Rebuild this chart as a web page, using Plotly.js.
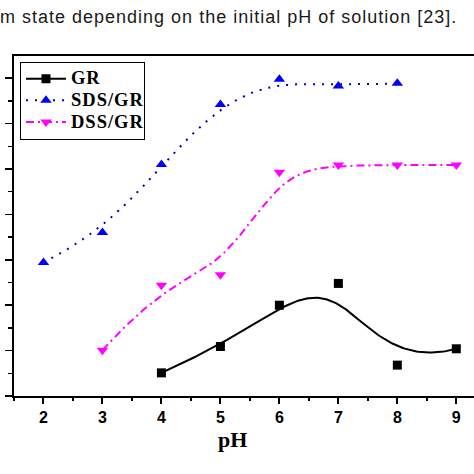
<!DOCTYPE html>
<html>
<head>
<meta charset="utf-8">
<script src="https://cdn.plot.ly/plotly-3.0.1.min.js"></script>
<style>
html,body{margin:0;padding:0;overflow:hidden;background:#fff;}
#chart{width:474px;height:474px;}
#chart .gtitle{letter-spacing:1.0px;}
#chart .legendtext{letter-spacing:1px;}
</style>
</head>
<body>
<div id="chart"></div>
<script>
// Data (y in units of the major y ticks, labels cropped)
const grPH = [4, 5, 6, 7, 8, 9];
const grVal = [0.51, 1.09, 2.00, 2.48, 0.68, 1.04];
const sdsPH = [2, 3, 4, 5, 6, 7, 8];
const sdsVal = [2.94, 3.60, 5.10, 6.42, 6.98, 6.83, 6.89];
const dssPH = [3, 4, 5, 6, 7, 8, 9];
const dssVal = [1.01, 2.44, 2.67, 4.93, 5.09, 5.09, 5.09];
const xTicks = [2, 3, 4, 5, 6, 7, 8, 9];
const seriesNames = ['GR', 'SDS/GR', 'DSS/GR'];
const caption = 'm state depending on the initial pH of solution [23].';
const xTitle = 'pH';

// Clamped uniform B-spline with the data as control points (Origin "B-Spline" connection)
function bspline(xs, ys, samples) {
  const n = xs.length;
  const p = Math.min(3, n - 1);
  const segs = n - p;
  const knots = [];
  for (let i = 0; i <= p; i++) knots.push(0);
  for (let i = 1; i < segs; i++) knots.push(i);
  for (let i = 0; i <= p; i++) knots.push(segs);
  const outX = [], outY = [];
  for (let s = 0; s <= samples; s++) {
    let t = segs * s / samples;
    if (t >= segs) t = segs - 1e-9;
    let k = p;
    while (k < n - 1 && t >= knots[k + 1]) k++;
    const dx = [], dy = [];
    for (let j = 0; j <= p; j++) { dx.push(xs[j + k - p]); dy.push(ys[j + k - p]); }
    for (let r = 1; r <= p; r++) {
      for (let j = p; j >= r; j--) {
        const i = j + k - p;
        const a = (t - knots[i]) / (knots[i + 1 + p - r] - knots[i]);
        dx[j] = (1 - a) * dx[j - 1] + a * dx[j];
        dy[j] = (1 - a) * dy[j - 1] + a * dy[j];
      }
    }
    outX.push(dx[p]); outY.push(dy[p]);
  }
  return [outX, outY];
}

const grC = bspline(grPH, grVal, 200);
const sdsC = bspline(sdsPH, sdsVal, 200);
const dssC = bspline(dssPH, dssVal, 200);

const styles = {
  gr: {line: {color: '#000000', width: 2, dash: 'solid'}, marker: {symbol: 'square', size: 9, color: '#000000'}},
  sds: {line: {color: '#0000b4', width: 2, dash: '2px,7px'}, marker: {symbol: 'triangle-up', size: 10, color: '#0000ff'}},
  dss: {line: {color: '#ff00ff', width: 2, dash: '8px,4px,2px,4px'}, marker: {symbol: 'triangle-down', size: 10, color: '#ff00ff'}}
};

function curve(c, st) {
  return {x: c[0], y: c[1], mode: 'lines', line: st.line, showlegend: false, hoverinfo: 'skip'};
}
function pts(xs, ys, st) {
  return {x: xs, y: ys, mode: 'markers', marker: st.marker, showlegend: false};
}
function leg(name, st) {
  return {x: [null], y: [null], mode: 'lines+markers',
    name: '<span style="font-size:18.5px">' + name + '</span>',
    line: st.line, marker: st.marker, showlegend: true};
}

const traces = [
  curve(sdsC, styles.sds), pts(sdsPH, sdsVal, styles.sds),
  curve(dssC, styles.dss), pts(dssPH, dssVal, styles.dss),
  curve(grC, styles.gr), pts(grPH, grVal, styles.gr),
  leg(seriesNames[0], styles.gr), leg(seriesNames[1], styles.sds), leg(seriesNames[2], styles.dss)
];

const layout = {
  width: 474, height: 474,
  margin: {l: 14, r: 0, t: 56, b: 78, pad: 0},
  paper_bgcolor: '#ffffff', plot_bgcolor: '#ffffff',
  title: {
    text: caption, xref: 'container', yref: 'container',
    x: 0.0, xanchor: 'left', y: 1 - 17 / 474, yanchor: 'middle',
    font: {family: 'Liberation Sans, Arial, sans-serif', size: 18, color: '#1a1a1a'}
  },
  xaxis: {
    range: [1.5, 9.3], tickvals: xTicks, ticktext: xTicks.map(String),
    showgrid: false, zeroline: false,
    showline: true, linecolor: '#000', linewidth: 2, mirror: true,
    ticks: 'outside', ticklen: 6, tickwidth: 2, tickcolor: '#000',
    minor: {dtick: 0.5, tick0: 1.5, ticks: 'outside', ticklen: 3, tickwidth: 2, tickcolor: '#000'},
    tickfont: {family: 'Liberation Sans, Arial, sans-serif', size: 16, color: '#000', weight: 'bold'},
    fixedrange: true
  },
  yaxis: {
    range: [0, 7.49], dtick: 1, tick0: 0,
    showgrid: false, zeroline: false, showticklabels: false,
    showline: true, linecolor: '#000', linewidth: 2, mirror: false,
    ticks: 'outside', ticklen: 7, tickwidth: 1.5, tickcolor: '#000',
    minor: {dtick: 0.5, tick0: 0, ticks: 'outside', ticklen: 4, tickwidth: 1.5, tickcolor: '#000'},
    fixedrange: true
  },
  legend: {
    x: 0.013, y: 0.983, xanchor: 'left', yanchor: 'top',
    bgcolor: '#ffffff', bordercolor: '#000', borderwidth: 1,
    font: {family: 'Liberation Serif, Times New Roman, serif', size: 14.4, color: '#000', weight: 'bold'},
    itemwidth: 40, tracegroupgap: 0
  },
  annotations: [{
    text: xTitle, xref: 'paper', yref: 'paper', x: (232 - 14) / 460, y: -(439 - 396) / 340,
    xanchor: 'center', yanchor: 'middle', showarrow: false,
    font: {family: 'Liberation Serif, Times New Roman, serif', size: 22, color: '#000', weight: 'bold'}
  }],
  showlegend: true
};

Plotly.newPlot('chart', traces, layout, {displayModeBar: false, staticPlot: true});
</script>
</body>
</html>
